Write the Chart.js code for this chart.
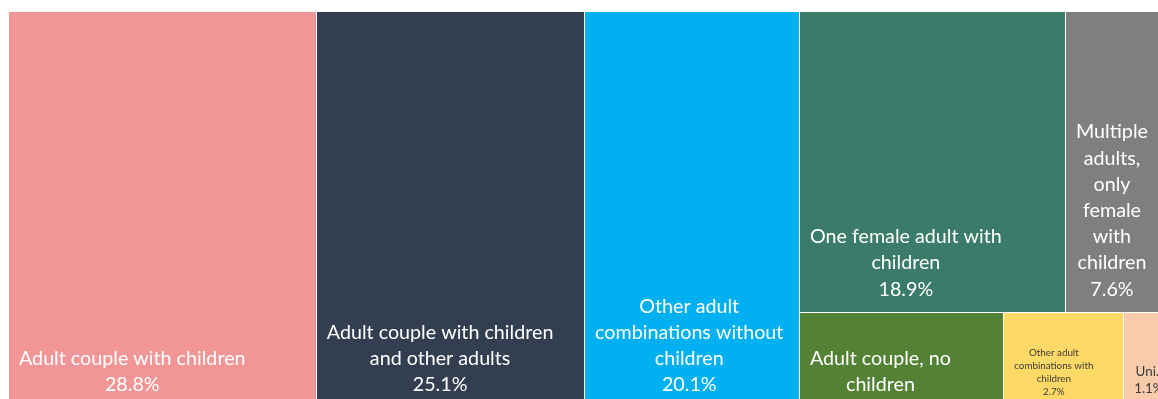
<!DOCTYPE html>
<html>
<head>
<meta charset="utf-8">
<script src="https://cdn.jsdelivr.net/npm/chart.js@4/dist/chart.umd.min.js"></script>
<style>
    html, body { margin: 0; padding: 0; background: #ffffff; overflow: hidden; }
    #wrap { width: 1180px; height: 420px; position: relative; }
</style>
</head>
<body>
<div id="wrap"><canvas id="householdTree"></canvas></div>
<script>
const categories = [
    'Adult couple with children',
    'Adult couple with children and other adults',
    'Other adult combinations without children',
    'One female adult with children',
    'Multiple adults, only female with children',
    'Adult couple, no children',
    'Other adult combinations with children',
    'Unidentified'
];
const shares = [28.8, 25.1, 20.1, 18.9, 7.6, 4.6, 2.7, 1.1];

// how the cells are grouped: columns first, the last column split into two rows
const tiling = [0, 1, 2, [[3, 4], [5, 6, 7]]];

const fillColours = ['#F19696', '#333F50', '#00B0F0', '#3A7C69', '#7F7F7F', '#548235', '#FFD966', '#F8CBAD'];
const textColours = ['#ffffff', '#ffffff', '#ffffff', '#ffffff', '#ffffff', '#ffffff', '#3a3a3a', '#3a3a3a'];
const labelSizes = [19.7, 19.7, 19.7, 19.7, 19.7, 19.7, 9.8, 13.4];

const FONT = 'Lato, "Open Sans", sans-serif';
const total = shares.reduce((a, b) => a + b, 0);

function nodeSum(node)
{
    if (Array.isArray(node)) return node.reduce((s, n) => s + nodeSum(n), 0);
    return shares[node];
}

// slice-and-dice layout in data units (x: 0..total, y: 0..100)
function tile(node, x0, y0, x1, y1, alongX, out)
{
    if (!Array.isArray(node)) {
        out.push({ index: node, x0: x0, y0: y0, x1: x1, y1: y1 });
        return out;
    }
    const sum = nodeSum(node);
    let pos = alongX ? x0 : y0;
    const span = alongX ? (x1 - x0) : (y1 - y0);
    for (const child of node) {
        const step = span * nodeSum(child) / sum;
        if (alongX) tile(child, pos, y0, pos + step, y1, false, out);
        else tile(child, x0, pos, x1, pos + step, true, out);
        pos += step;
    }
    return out;
}

const cells = tile(tiling, 0, 0, total, 100, true, []);

function fitWord(ctx, word, maxW)
{
    if (ctx.measureText(word).width <= maxW) return word;
    let s = word;
    while (s.length > 1 && ctx.measureText(s + '..').width > maxW) s = s.slice(0, -1);
    return s + '..';
}

function wrapLines(ctx, text, maxW, cutW)
{
    const words = text.split(' ');
    if (words.length == 1) return [fitWord(ctx, text, cutW)];
    const lines = [];
    let cur = '';
    for (const w of words) {
        const test = cur ? cur + ' ' + w : w;
        if (cur && ctx.measureText(test).width > maxW) {
            lines.push(fitWord(ctx, cur, cutW));
            cur = w;
        } else {
            cur = test;
        }
    }
    if (cur) lines.push(fitWord(ctx, cur, cutW));
    return lines;
}

const treemapCells = {
    id: 'treemapCells',
    beforeDatasetsDraw(chart) {
        const ctx = chart.ctx;
        const xs = chart.scales.x, ys = chart.scales.y;
        ctx.save();
        for (const c of cells) {
            const left = xs.getPixelForValue(c.x0);
            const right = xs.getPixelForValue(c.x1);
            const top = ys.getPixelForValue(c.y0);
            const bottom = ys.getPixelForValue(c.y1);
            ctx.fillStyle = fillColours[c.index];
            ctx.fillRect(left, top, right - left, bottom - top);
            ctx.strokeStyle = '#ffffff';
            ctx.lineWidth = 1;
            ctx.strokeRect(Math.round(left) + 0.5, Math.round(top) + 0.5, Math.round(right - left), Math.round(bottom - top));
        }
        for (const c of cells) {
            const left = xs.getPixelForValue(c.x0);
            const right = xs.getPixelForValue(c.x1);
            const top = ys.getPixelForValue(c.y0);
            const bottom = ys.getPixelForValue(c.y1);
            const size = labelSizes[c.index];
            const lh = size * 1.33;
            const pad = 11;
            ctx.font = size + 'px ' + FONT;
            const maxW = right - left - 2 * pad;
            const cutW = right - left - pad - 8;
            let lines = wrapLines(ctx, categories[c.index], maxW, cutW);
            lines.push(fitWord(ctx, shares[c.index].toFixed(1) + '%', cutW));
            // drop trailing lines that do not fit the cell height
            const room = bottom - top - 20;
            while (lines.length > 1 && lines.length * lh > room) lines.pop();
            const blockW = Math.max(...lines.map(l => ctx.measureText(l).width));
            const cx = left + pad + blockW / 2;
            ctx.fillStyle = textColours[c.index];
            ctx.textAlign = 'center';
            ctx.textBaseline = 'middle';
            ctx.save();
            ctx.beginPath();
            ctx.rect(left, top, right - left, bottom - top);
            ctx.clip();
            lines.forEach((l, i) => {
                const y = bottom - 10 - (lines.length - i - 0.5) * lh;
                ctx.fillText(l, cx, y);
            });
            ctx.restore();
        }
        ctx.restore();
    }
};

new Chart(document.getElementById('householdTree'), {
    type: 'scatter',
    data: { datasets: [{ data: [] }] },
    options: {
        responsive: true,
        maintainAspectRatio: false,
        animation: false,
        layout: { padding: { left: 8, top: 11, right: 8, bottom: 12 } },
        plugins: { legend: { display: false }, tooltip: { enabled: false } },
        scales: {
            x: { type: 'linear', min: 0, max: total, display: false },
            y: { type: 'linear', min: 0, max: 100, reverse: true, display: false }
        }
    },
    plugins: [treemapCells]
});
</script>
</body>
</html>
